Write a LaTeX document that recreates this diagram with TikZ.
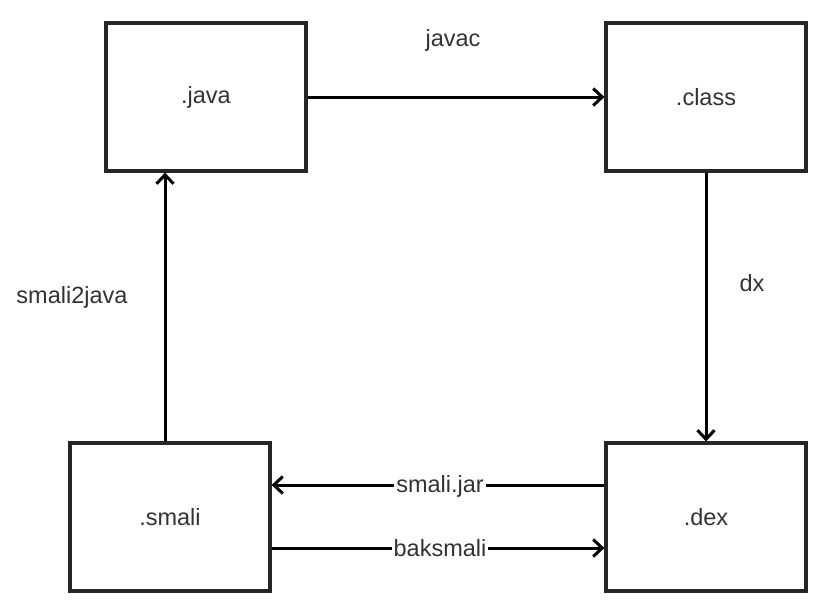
\documentclass[tikz,border=0pt]{standalone}
\usepackage{fontspec}
\setmainfont{Liberation Sans}
\usepackage{xcolor}
\usetikzlibrary{arrows.meta,positioning,calc}

\definecolor{boxline}{HTML}{262626}
\definecolor{labeltext}{HTML}{333333}

\begin{document}
\begin{tikzpicture}[
        x=1pt, y=-1pt,
        >={Straight Barb[length=9pt,width=17pt,line width=3pt]},
        every node/.style={font=\fontsize{23.5}{27}\selectfont, text=labeltext},
        filebox/.style={
            draw=boxline,
            line width=3.2pt,
            minimum width=200pt,
            minimum height=148pt,
            inner sep=0pt
        },
        tool/.style={inner sep=2pt},
        onwire/.style={fill=white, inner sep=2pt},
        arrow/.style={->, line width=3pt}
    ]

    \useasboundingbox (0,0) rectangle (838,606);

    \node[filebox] (java) at (206,97) {.java};
    \node[filebox] (class) at (706,97) {.class};
    \node[filebox] (smali) at (170,517) {.smali};
    \node[filebox] (dex) at (706,517) {.dex};

    \draw[arrow] (java.east) -- (class.west);
    \draw[arrow] (class.south) -- (dex.north);
    \draw[arrow] ([xshift=-5pt]smali.north) -- ([xshift=-5pt]smali.north |- java.south);
    \draw[arrow] ([yshift=32pt]dex.west) -- ([yshift=32pt]dex.west -| smali.east);
    \draw[arrow] ([yshift=-31pt]smali.east) -- ([yshift=-31pt]smali.east -| dex.west);

    \node[tool] (javac) at (453,40) {javac};
    \node[tool] (dx) at (752,283) {dx};
    \node[tool] (s2j) at (72,297) {smali2java};
    \node[onwire] (smalijar) at (440,486) {smali.jar};
    \node[onwire] (baksmali) at (440,548) {baksmali};

\end{tikzpicture}
\end{document}
